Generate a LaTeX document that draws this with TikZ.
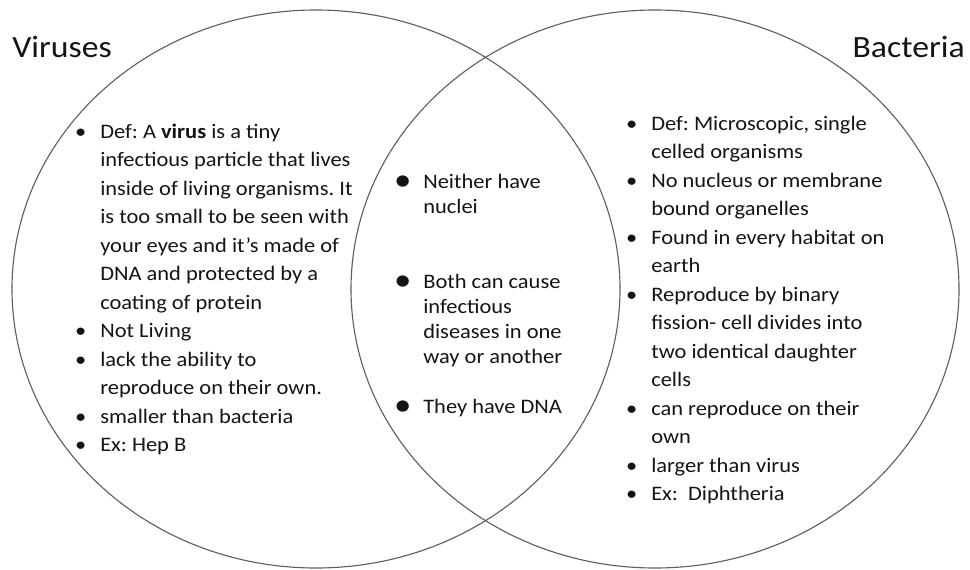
\documentclass[tikz,border=0pt]{standalone}
\usepackage{fontspec}
\setmainfont{Carlito}[FakeStretch=1.09]
\usepackage{tikz}
\frenchspacing
\definecolor{vennline}{RGB}{95,95,95}
\definecolor{venntext}{RGB}{20,20,20}
\newcommand{\sidebul}{\llap{\textbullet\hspace{10pt}}}
\newcommand{\midbul}{\llap{\raisebox{-1.6pt}{\scalebox{1.55}{\textbullet}}\hspace{8.5pt}}}

\begin{document}
\begin{tikzpicture}[x=0.025cm, y=-0.025cm]
\useasboundingbox (0,0) rectangle (970,570);
\coordinate (vc) at (316,289);
\coordinate (bc) at (655,289);
\draw[vennline, line width=0.8pt] (vc) ellipse [x radius=304, y radius=279];
\draw[vennline, line width=0.8pt] (bc) ellipse [x radius=304, y radius=279];
\node[anchor=base west, inner sep=0, text=venntext, font=\fontsize{22pt}{26pt}\selectfont] (vtitle) at (12,58) {Viruses};
\node[anchor=base east, inner sep=0, text=venntext, font=\fontsize{22pt}{26pt}\selectfont] (btitle) at (965,58) {Bacteria};
\node[anchor=north west, inner sep=0, align=left, text=venntext, font=\fontsize{14.65pt}{20.27pt}\selectfont] (vlist) at (100,118) {\strut\sidebul Def: A \textbf{virus} is a tiny\\
infectious particle that lives\\
inside of living organisms. It\\
is too small to be seen with\\
your eyes and it’s made of\\
DNA and protected by a\\
coating of protein\\
\sidebul Not Living\\
\sidebul lack the ability to\\
reproduce on their own.\\
\sidebul smaller than bacteria\\
\sidebul Ex: Hep B};
\node[anchor=north west, inner sep=0, align=left, text=venntext, font=\fontsize{14.65pt}{17.78pt}\selectfont] (both) at (423,170.5) {\strut\midbul Neither have\\
nuclei\\[2\baselineskip]
\midbul Both can cause\\
infectious\\
diseases in one\\
way or another\\[\baselineskip]
\midbul They have DNA};
\node[anchor=north west, inner sep=0, align=left, text=venntext, font=\fontsize{14.65pt}{20.27pt}\selectfont] (blist) at (651,110) {\strut\sidebul Def: Microscopic, single\\
celled organisms\\
\sidebul No nucleus or membrane\\
bound organelles\\
\sidebul Found in every habitat on\\
earth\\
\sidebul Reproduce by binary\\
fission- cell divides into\\
two identical daughter\\
cells\\
\sidebul can reproduce on their\\
own\\
\sidebul larger than virus\\
\sidebul Ex:~~Diphtheria};
\end{tikzpicture}
\end{document}
